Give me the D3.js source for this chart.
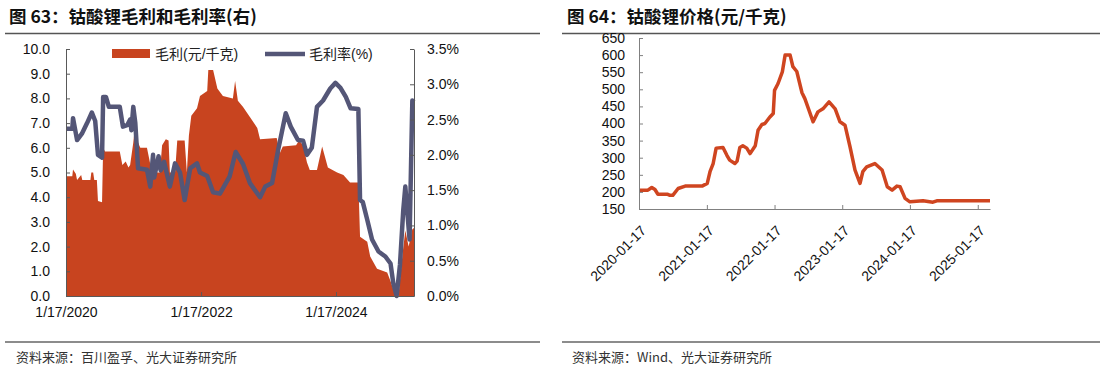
<!DOCTYPE html>
<html>
<head>
<meta charset="utf-8">
<script src="https://cdn.jsdelivr.net/npm/d3@7"></script>
<style>
  body { margin: 0; background: #fff; }
  svg text { font-family: "Liberation Sans", Arial, "Noto Sans CJK SC", sans-serif; }
  .cjk { font-family: "Noto Sans CJK SC", sans-serif !important; }
</style>
</head>
<body>
<svg id="chart" width="1106" height="368"></svg>
<script>
// ---- data ----
// left chart: gross profit (元/千克), area
var profitDates = ["2020-01-17","2020-02-20","2020-02-24","2020-03-10","2020-03-17","2020-04-08","2020-04-14","2020-05-28",
  "2020-06-02","2020-06-12","2020-06-18","2020-07-02","2020-07-08","2020-07-30","2020-08-05","2020-08-15","2020-11-03",
  "2020-11-17","2020-12-05","2020-12-20","2020-12-29","2021-01-15","2021-01-26","2021-02-05","2021-02-22","2021-03-30",
  "2021-04-10","2021-04-26","2021-06-08","2021-06-20","2021-07-10","2021-07-25","2021-08-01","2021-08-29","2021-09-10",
  "2021-10-20","2021-11-01","2021-11-12","2021-11-25","2021-12-26","2022-01-11","2022-02-19","2022-02-25","2022-03-23",
  "2022-04-15","2022-05-15","2022-07-08","2022-07-20","2022-08-04","2022-09-01","2022-10-08","2022-11-17","2022-12-02",
  "2023-03-02","2023-03-20","2023-04-04","2023-06-15","2023-07-01","2023-07-23","2023-08-13","2023-08-28","2023-10-06",
  "2023-11-03","2023-12-04","2024-01-23","2024-02-26","2024-04-02","2024-05-17","2024-05-26","2024-07-04","2024-07-20",
  "2024-08-26","2024-10-20","2024-11-07","2024-12-02","2024-12-20","2025-01-11","2025-01-26","2025-02-13","2025-03-05",
  "2025-03-14"];
var profitValues = [4.85,4.85,5.12,4.95,4.7,4.9,4.7,4.7,
  5.0,5.0,4.7,4.7,3.85,3.8,6.0,5.85,5.85,
  5.3,5.45,5.2,5.3,6.2,7.0,6.3,6.0,6.0,
  5.6,5.0,5.0,6.1,6.35,6.3,5.0,5.0,6.3,
  6.3,5.0,6.5,7.3,7.6,8.1,8.3,9.15,9.15,
  8.4,8.1,8.0,8.7,7.9,7.65,7.25,6.8,6.35,
  6.4,5.8,6.05,6.1,6.3,6.1,5.4,5.1,5.1,
  6.05,5.2,5.0,4.9,4.6,4.6,2.4,2.2,1.6,
  1.1,0.95,0.6,0.05,0.0,1.7,2.65,2.0,2.7,
  2.75];

// left chart: gross margin (%), line on right axis
var marginDates = ["2020-01-17","2020-02-20","2020-02-24","2020-03-17","2020-04-12","2020-05-10","2020-06-05","2020-06-23",
  "2020-07-08","2020-07-30","2020-08-05","2020-08-20","2020-09-05","2020-11-03","2020-11-20","2020-12-13","2020-12-29",
  "2021-01-05","2021-01-15","2021-01-26","2021-02-10","2021-03-30","2021-04-17","2021-05-02","2021-05-08","2021-06-01",
  "2021-06-12","2021-07-01","2021-08-01","2021-08-29","2021-09-25","2021-10-20","2021-11-19","2021-12-26","2022-01-11",
  "2022-02-19","2022-03-23","2022-04-29","2022-06-20","2022-07-23","2022-09-01","2022-10-08","2022-12-02","2022-12-30",
  "2023-02-05","2023-03-10","2023-04-20","2023-05-17","2023-06-25","2023-07-23","2023-08-13","2023-09-08","2023-10-06",
  "2023-11-08","2023-12-17","2024-01-14","2024-02-10","2024-03-10","2024-04-05","2024-05-17","2024-05-26","2024-06-10",
  "2024-07-04","2024-07-30","2024-09-03","2024-10-10","2024-11-07","2024-11-22","2024-12-10","2024-12-28","2025-01-15",
  "2025-01-26","2025-02-05","2025-02-18","2025-03-05","2025-03-14"];
var marginValues = [2.37,2.37,2.52,2.21,2.3,2.45,2.6,2.48,
  2.0,1.96,2.82,2.82,2.68,2.68,2.4,2.42,2.5,
  2.35,2.68,2.45,1.81,1.79,1.55,2.0,1.68,1.98,
  1.78,1.9,1.55,1.88,1.75,1.36,1.81,1.88,1.75,
  1.7,1.47,1.45,1.69,2.04,1.87,1.6,1.4,1.55,
  1.6,2.07,2.59,2.4,2.21,2.2,2.0,2.1,2.68,
  2.77,2.94,3.02,2.95,2.82,2.66,2.65,1.36,1.33,
  1.08,0.8,0.63,0.56,0.46,0.18,0.0,0.44,1.22,
  1.55,1.22,0.8,2.77,2.75];

// right chart: lithium cobalt oxide price (元/千克)
var priceDates = ["2020-01-17","2020-03-05","2020-03-26","2020-04-12","2020-04-28","2020-06-20","2020-07-02","2020-07-17",
  "2020-08-15","2020-09-22","2020-12-22","2021-01-19","2021-02-03","2021-02-20","2021-03-08","2021-04-14","2021-05-05",
  "2021-05-20","2021-06-17","2021-06-29","2021-07-14","2021-07-30","2021-08-20","2021-09-07","2021-10-05","2021-10-20",
  "2021-11-10","2021-11-26","2021-12-23","2022-01-10","2022-01-17","2022-02-05","2022-02-28","2022-03-15","2022-04-11",
  "2022-04-26","2022-05-17","2022-06-14","2022-06-30","2022-08-13","2022-09-08","2022-10-05","2022-11-07","2022-12-10",
  "2023-01-05","2023-02-01","2023-02-28","2023-03-27","2023-04-23","2023-05-08","2023-05-29","2023-07-12","2023-08-20",
  "2023-09-17","2023-10-13","2023-11-08","2023-11-25","2023-12-22","2024-01-17","2024-03-28","2024-05-20","2024-06-10",
  "2025-03-24"];
var priceValues = [205,205,213,207,193,193,190,190,
  210,217,217,225,259,283,328,330,307,
  293,283,290,330,335,328,312,335,380,
  397,400,419,429,497,517,551,600,600,
  566,552,490,472,405,434,443,463,443,
  405,395,332,264,225,259,273,283,264,
  215,205,217,215,181,171,174,170,174,
  174];

var leftTicks = [0,1,2,3,4,5,6,7,8,9,10];
var rightTicks = [0,0.5,1,1.5,2,2.5,3,3.5];
var priceTicks = [150,200,250,300,350,400,450,500,550,600,650];
var leftDateTicks = ["2020-01-17","2022-01-17","2024-01-17"];
var priceDateTicks = ["2020-01-17","2021-01-17","2022-01-17","2023-01-17","2024-01-17","2025-01-17"];

var titles = ["图 63：钴酸锂毛利和毛利率(右)", "图 64：钴酸锂价格(元/千克)"];
var sources = ["资料来源：百川盈孚、光大证券研究所", "资料来源：Wind、光大证券研究所"];
var legendNames = ["毛利(元/千克)", "毛利率(%)"];

var areaColor = "#C8441F",
    lineColor = "#545677",
    priceColor = "#CF4520";

var parse = d3.timeParse("%Y-%m-%d");
var svg = d3.select("#chart");

// ---- titles, rules, sources ----
var panels = [{x0: 5, x1: 540, tx: 9, sx: 16}, {x0: 562, x1: 1100, tx: 567, sx: 572}];
panels.forEach(function(p, i) {
  svg.append("text").attr("class", "cjk")
    .attr("x", p.tx).attr("y", 23)
    .style("font-size", "17.5px").style("font-weight", "bold").attr("fill", "#111")
    .text(titles[i]);
  svg.append("line").attr("x1", p.x0).attr("x2", p.x1).attr("y1", 33.5).attr("y2", 33.5)
    .attr("stroke", "#555").attr("stroke-width", 1.5);
  svg.append("line").attr("x1", p.x0).attr("x2", p.x1).attr("y1", 342).attr("y2", 342)
    .attr("stroke", "#666").attr("stroke-width", 1.5);
  svg.append("text").attr("class", "cjk")
    .attr("x", p.sx).attr("y", 362)
    .style("font-size", "13px").attr("fill", "#333")
    .text(sources[i]);
});

// ---- left chart ----
var profit = profitDates.map(function(d, i) { return {date: parse(d), v: profitValues[i]}; });
var margin = marginDates.map(function(d, i) { return {date: parse(d), v: marginValues[i]}; });

var x = d3.scaleTime()
  .domain([parse("2020-01-17"), parse("2025-03-14")])
  .range([66, 414]);
var yL = d3.scaleLinear().domain([0, 10]).range([296, 49]);
var yR = d3.scaleLinear().domain([0, 3.5]).range([296, 49]);

var left = svg.append("g");

left.append("path")
  .datum(profit)
  .attr("fill", areaColor)
  .attr("d", d3.area()
    .x(function(d) { return x(d.date); })
    .y0(yL(0))
    .y1(function(d) { return yL(d.v); }));

left.append("path")
  .datum(margin)
  .attr("fill", "none")
  .attr("stroke", lineColor)
  .attr("stroke-width", 4.5)
  .attr("stroke-linejoin", "round")
  .attr("d", d3.line()
    .x(function(d) { return x(d.date); })
    .y(function(d) { return yR(d.v); }));

function styleAxis(g, color) {
  g.selectAll("path, line").attr("stroke", color);
  g.selectAll("text").attr("fill", "#111").style("font-size", "14px");
}

left.append("g")
  .attr("transform", "translate(66,0)")
  .call(d3.axisLeft(yL).tickValues(leftTicks).tickFormat(d3.format(".1f"))
    .tickSize(-4).tickSizeOuter(0).tickPadding(16))
  .call(styleAxis, "#595959");

left.append("g")
  .attr("transform", "translate(414,0)")
  .call(d3.axisRight(yR).tickValues(rightTicks).tickFormat(function(d) { return d3.format(".1f")(d) + "%"; })
    .tickSize(-4).tickSizeOuter(0).tickPadding(13))
  .call(styleAxis, "#595959");

left.append("g")
  .attr("transform", "translate(0,296)")
  .call(d3.axisBottom(x).tickValues(leftDateTicks.map(parse)).tickFormat(d3.timeFormat("%-m/%-d/%Y"))
    .tickSize(-4).tickSizeOuter(0).tickPadding(11))
  .call(styleAxis, "#595959");

// legend
var lg = left.append("g");
lg.append("rect").attr("x", 112).attr("y", 49).attr("width", 38).attr("height", 9).attr("fill", areaColor);
lg.append("text").attr("x", 155).attr("y", 54).attr("dy", "0.35em")
  .style("font-size", "14px").attr("fill", "#222").text(legendNames[0]);
lg.append("line").attr("x1", 265).attr("x2", 305).attr("y1", 54).attr("y2", 54)
  .attr("stroke", lineColor).attr("stroke-width", 4.5);
lg.append("text").attr("x", 309).attr("y", 54).attr("dy", "0.35em")
  .style("font-size", "14px").attr("fill", "#222").text(legendNames[1]);

// ---- right chart ----
var price = priceDates.map(function(d, i) { return {date: parse(d), v: priceValues[i]}; });

var x2 = d3.scaleTime()
  .domain([parse("2020-01-17"), parse("2025-03-24")])
  .range([639, 990]);
var y2 = d3.scaleLinear().domain([150, 650]).range([209, 38]);

var right = svg.append("g");

right.append("path")
  .datum(price)
  .attr("fill", "none")
  .attr("stroke", priceColor)
  .attr("stroke-width", 3.5)
  .attr("stroke-linejoin", "round")
  .attr("d", d3.line()
    .x(function(d) { return x2(d.date); })
    .y(function(d) { return y2(d.v); }));

right.append("g")
  .attr("transform", "translate(639,0)")
  .call(d3.axisLeft(y2).tickValues(priceTicks)
    .tickSize(-4).tickSizeOuter(0).tickPadding(14))
  .call(styleAxis, "#808080");

var xAx = right.append("g")
  .attr("transform", "translate(0,209)")
  .call(d3.axisBottom(x2).tickValues(priceDateTicks.map(parse)).tickFormat(d3.timeFormat("%Y-%m-%d"))
    .tickSize(-4).tickSizeOuter(0))
  .call(styleAxis, "#808080");

xAx.selectAll(".tick text")
  .attr("y", 0).attr("dy", "0.35em")
  .attr("transform", "translate(4,19) rotate(-45)")
  .style("text-anchor", "end");
</script>
</body>
</html>
